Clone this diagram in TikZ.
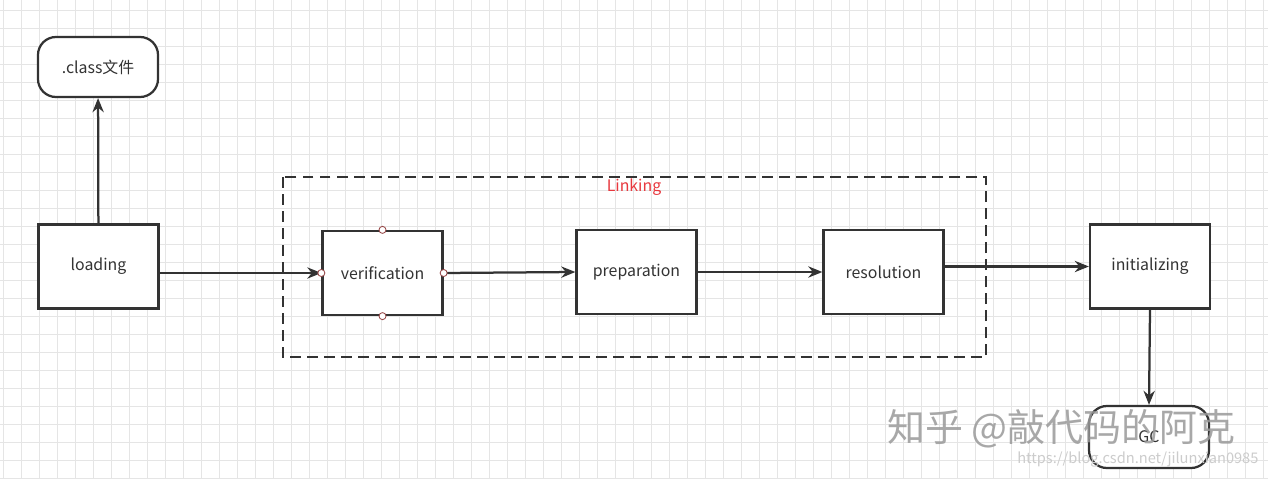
\documentclass[tikz,border=0pt]{standalone}
\usepackage{fontspec}
\setmainfont{Noto Sans CJK SC}
\usetikzlibrary{arrows.meta}

\definecolor{lineclr}{RGB}{51,51,51}
\definecolor{gridclr}{RGB}{229,229,229}
\definecolor{linkred}{RGB}{232,56,62}
\definecolor{portclr}{RGB}{150,70,70}

\tikzset{
  box/.style={draw=lineclr, line width=1.6pt, fill=white, inner sep=0pt,
    minimum width=3cm, minimum height=2.1cm, text=black!80,
    font=\fontsize{11.3pt}{13pt}\selectfont},
  pill/.style={box, rounded corners=0.45cm, minimum height=1.5cm},
  flow/.style={draw=lineclr, line width=1.6pt, -{Stealth[length=10pt,width=8pt]}},
  port/.style={circle, draw=portclr, fill=white, line width=0.6pt,
    inner sep=0pt, minimum size=5pt},
  gridline/.style={draw=gridclr, line width=0.5pt}
}

\begin{document}
\begin{tikzpicture}[x=0.025cm,y=-0.025cm]
 \useasboundingbox (0,0) rectangle (1268,479);
 \fill[white] (0,0) rectangle (1268,479);
 % grid
 \foreach \gx in {0,...,70}
  \draw[gridline] (3.3+18*\gx,0) -- (3.3+18*\gx,479);
 \foreach \gy in {0,...,26}
  \draw[gridline] (0,10.3+18*\gy) -- (1268,10.3+18*\gy);

 % linking frame
 \draw[lineclr, line width=1.6pt, dash pattern=on 7.8pt off 4.3pt]
  (283,177) rectangle (986,357);
 \node[text=linkred, font=\fontsize{11.3pt}{13pt}\selectfont] (linking) at (634,187) {Linking};

 \node[pill] (classfile) at (98,67) {.class文件};
 \node[box] (loading) at (98.5,266.5) {loading};
 \node[box] (verif) at (382.5,273) {verification};
 \node[box] (prep) at (636.5,272) {preparation};
 \node[box] (resol) at (883.5,272) {resolution};
 \node[box] (init) at (1150,266.5) {initializing};
 \node[pill, minimum height=1.55cm] (gc) at (1149,437) {GC};

 \draw[flow] (loading) -- (classfile);
 \draw[flow] (loading.east |- verif.west) -- (verif.west);
 \draw[flow] (verif.east) -- (prep.west);
 \draw[flow] (prep.east) -- (resol.west);
 \draw[flow] (resol.east |- init.west) -- (init.west);
 \draw[flow] (init.south) -- (gc.north);

 % ports on verification
 \node[port] (vn) at (verif.north) {};
 \node[port] (vs) at (verif.south) {};
 \node[port] (vw) at (verif.west) {};
 \node[port] (ve) at (verif.east) {};

 % watermark
 \node[text=black!40, opacity=0.85, anchor=west, inner sep=0pt,
   font=\fontsize{27pt}{29pt}\selectfont] (mark) at (887,429) {知乎 @敲代码的阿克};
 \node[text=black!20, anchor=west, inner sep=0pt,
   font=\fontsize{10.4pt}{12pt}\selectfont] (url) at (1017,460) {https://blog.csdn.net/jilunxian0985};
\end{tikzpicture}
\end{document}
